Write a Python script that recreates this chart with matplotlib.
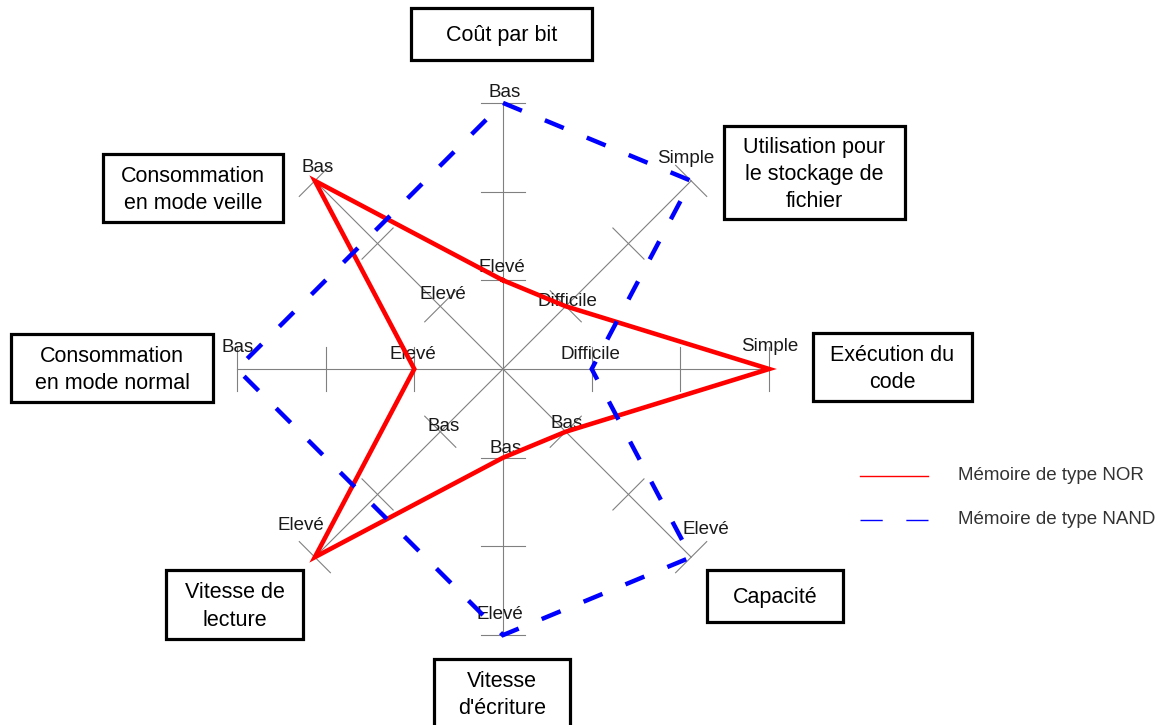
import numpy as np
import matplotlib
matplotlib.use("Agg")
import matplotlib.pyplot as plt
from matplotlib.patches import Rectangle

plt.rcParams['font.family'] = ['Liberation Sans', 'DejaVu Sans']

# axes, clockwise from the top
categories = ["Coût par bit",
              "Utilisation pour\nle stockage de\nfichier",
              "Exécution du\ncode",
              "Capacité",
              "Vitesse\nd'écriture",
              "Vitesse de\nlecture",
              "Consommation\nen mode normal",
              "Consommation\nen mode veille"]
# labels at level 1 and level 3 of each axis
low_labels = ["Elevé", "Difficile", "Difficile", "Bas", "Bas", "Bas", "Elevé", "Elevé"]
high_labels = ["Bas", "Simple", "Simple", "Elevé", "Elevé", "Elevé", "Bas", "Bas"]
levels = [1, 2, 3]
nor_values = [1, 1, 3, 1, 1, 3, 1, 3]
nand_values = [3, 3, 1, 3, 3, np.nan, 3, np.nan]
series_names = ["Mémoire de type NOR", "Mémoire de type NAND"]

W, H = 1164, 725
CX, CY = 503, 369          # centre of the star, pixels
UNIT = 88.7                # pixels per level

fig = plt.figure(figsize=(W / 100, H / 100), dpi=100)
ax = fig.add_axes([0, 0, 1, 1])
ax.set_xlim(-CX / UNIT, (W - CX) / UNIT)
ax.set_ylim(-(H - CY) / UNIT, CY / UNIT)
ax.axis('off')


def px(x, y):
    # figure pixel (from top-left) -> data coords
    return (x - CX) / UNIT, (CY - y) / UNIT


n = len(categories)
theta = np.arange(n) * 2 * np.pi / n
ux, uy = np.sin(theta), np.cos(theta)

# spokes and perpendicular ticks
half = 22 / UNIT
for i in range(n):
    ax.plot([0, 3 * ux[i]], [0, 3 * uy[i]], color='#808080', lw=0.8, zorder=1)
    for lv in levels:
        x0, y0 = lv * ux[i], lv * uy[i]
        ax.plot([x0 - half * uy[i], x0 + half * uy[i]],
                [y0 + half * ux[i], y0 - half * ux[i]],
                color='#808080', lw=0.8, zorder=1)

# tick label offsets (pixels) for level 1 and level 3
offs_low = [(-1, -13), (2, -5), (-1, -14), (1, -8), (3, -9), (3, -5), (-1, -14), (3, -12)]
offs_high = [(2, -10), (-5, -22), (1, -22), (15, -28), (-3, -21), (-14, -32), (1, -22), (3, -13)]
for i in range(n):
    for lv, lab, (dx, dy) in ((1, low_labels[i], offs_low[i]), (3, high_labels[i], offs_high[i])):
        ax.text(lv * ux[i] + dx / UNIT, lv * uy[i] - dy / UNIT, lab,
                ha='center', va='center', fontsize=13.5, color='#1a1a1a', zorder=3)

# series
nor = np.array(nor_values + nor_values[:1], dtype=float)
ax.plot(nor * np.append(ux, ux[0]), nor * np.append(uy, uy[0]),
        color='#ff0000', lw=3.3, zorder=4, solid_joinstyle='miter')

nand = np.array(nand_values, dtype=float)
ok = ~np.isnan(nand)
nx = np.append((nand * ux)[ok], (nand * ux)[ok][0])
ny = np.append((nand * uy)[ok], (nand * uy)[ok][0])
ax.plot(nx, ny, color='#0000ff', lw=3.2, dashes=(4.6, 5.6), dash_capstyle='butt',
        zorder=5, dash_joinstyle='miter')

# category boxes (left, top, right, bottom in pixels)
boxes = [(411, 8, 592, 60), (724, 126, 905, 219), (813, 333, 972, 401),
         (707, 570, 843, 622), (434, 659, 570, 730), (166, 570, 303, 639),
         (11, 334, 213, 402), (103, 154, 283, 222)]
for lab, (l, t, r, b) in zip(categories, boxes):
    x0, y0 = px(l, b)
    x1, y1 = px(r, t)
    ax.add_patch(Rectangle((x0, y0), x1 - x0, y1 - y0, fill=False,
                           edgecolor='black', lw=2.3, zorder=6, clip_on=False))
    yc = (t + b) / 2 if b < H else 693
    ax.text((x0 + x1) / 2, px(0, yc + 2)[1], lab,
            ha='center', va='center', fontsize=15.5, linespacing=1.38, zorder=7)

# legend
for k, (name, style) in enumerate(zip(series_names, ['-', (0, (16, 17))])):
    yk = 476 + 44 * k
    col = '#ff0000' if k == 0 else '#0000ff'
    xa, ya = px(860, yk)
    xb, _ = px(928, yk)
    ax.plot([xa, xb], [ya, ya], color=col, lw=1, linestyle=style)
    tx, ty = px(958, yk)
    ax.text(tx, ty, name, ha='left', va='center', fontsize=13.5, color='#333333')

fig.savefig('out.png', dpi=100)
